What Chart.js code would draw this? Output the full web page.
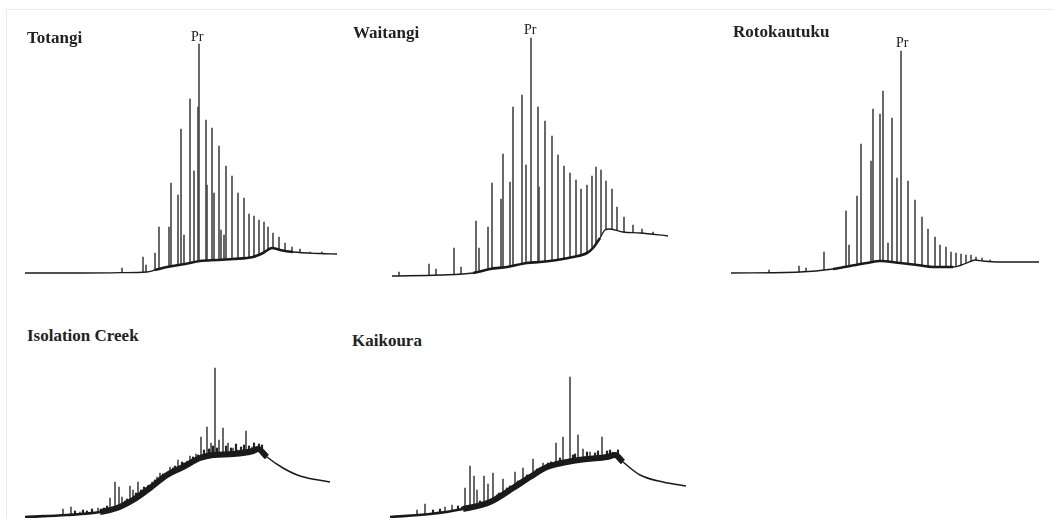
<!DOCTYPE html>
<html>
<head>
<meta charset="utf-8">
<script src="https://cdn.jsdelivr.net/npm/chart.js@4.4.1/dist/chart.umd.min.js"></script>
<style>
  body { margin:0; background:#fff; width:1053px; height:518px; overflow:hidden; position:relative; }
  .frame { position:absolute; left:6px; top:9px; right:0; bottom:0; border-top:1px solid #ececec; border-left:1px solid #ececec; }
  canvas { position:absolute; }
  .name { position:absolute; font-family:"Liberation Serif","Times New Roman",serif; font-weight:bold; font-size:17px; line-height:17px; color:#222; white-space:nowrap; }
  .pr { position:absolute; font-family:"Liberation Serif","Times New Roman",serif; font-size:14px; line-height:14px; color:#222; }
</style>
</head>
<body>
<div class="frame"></div>

<script>
// retention time (arbitrary units) and detector response

// Totangi
const totangiBaseX = [5, 60, 100, 127, 135, 147, 165, 180, 197, 213, 233, 243, 252, 260, 273, 300, 317];
const totangiBaseY = [3, 3, 3.3, 4, 6, 9, 12, 15, 16, 17, 19, 23, 28, 26, 24, 22.5, 22];
const totangiPeakX = [102, 123, 126, 135, 139, 149, 151, 158, 161, 164, 170, 174, 178, 179, 186, 187, 192, 194, 199, 201, 204, 206, 212, 218, 224, 229, 234, 239, 244, 248, 253, 259, 265, 272, 280, 290, 302];
const totangiPeakY = [8, 19, 11, 23, 49, 49, 93, 81, 147, 41, 177, 105, 169, 232, 156, 91, 148, 83, 130, 46, 41, 110, 100, 83, 78, 62, 60, 56, 54, 49, 43, 39, 33, 29, 27, 24, 24];

// Waitangi
const waitangiBaseX = [7, 55, 88, 105, 122, 142, 155, 172, 188, 202, 208, 215, 220, 225, 238, 255, 283];
const waitangiBaseY = [4, 5, 7, 11, 13, 17, 18, 20, 23, 27, 32, 42, 50, 51, 48, 47, 44];
const waitangiPeakX = [14, 44, 51, 69, 76, 91, 94, 103, 107, 116, 118, 125, 128, 137, 141, 146, 153, 154, 160, 167, 173, 179, 185, 191, 196, 202, 207, 211, 216, 221, 227, 232, 239, 248, 257, 268];
const waitangiPeakY = [8, 16, 11, 32, 13, 59, 32, 53, 97, 81, 126, 98, 173, 185, 115, 242, 173, 93, 159, 144, 125, 114, 107, 100, 91, 95, 104, 113, 110, 99, 91, 73, 63, 55, 51, 48];

// Rotokautuku
const rotoBaseX = [6, 75, 108, 125, 142, 155, 175, 192, 208, 228, 242, 250, 258, 275, 314];
const rotoBaseY = [7, 8, 11, 14, 17, 19, 17, 15, 13, 13, 17, 20, 19, 18, 18];
const rotoPeakX = [44, 74, 81, 99, 121, 124, 132, 136, 146, 148, 155, 158, 163, 167, 172, 176, 183, 190, 197, 203, 210, 215, 221, 226, 231, 236, 241, 246, 251, 257, 265];
const rotoPeakY = [10, 14, 12, 28, 69, 35, 84, 136, 119, 171, 166, 189, 37, 162, 102, 229, 99, 80, 63, 51, 43, 35, 33, 28, 27, 26, 25, 25, 23, 22, 20];

// Isolation Creek (resolved peaks plus the small unresolved ones riding on the hump)
const isoBaseX = [5, 47, 80, 97, 113, 130, 147, 163, 180, 193, 213, 233, 238, 247, 263, 280, 310];
const isoBaseY = [1, 3, 6, 10, 18, 30, 43, 51, 60, 63, 64, 67, 69, 61, 50, 42, 36];
const isoPeakX = [23, 43, 51, 60, 78, 90, 95, 99, 102, 110, 113, 118, 128, 132, 137, 140, 150, 158, 167, 170, 176, 181, 187, 191, 195, 199, 203, 208, 213, 218, 226, 232, 236];
const isoPeakY = [3, 9, 11, 6, 10, 20, 36, 31, 21, 32, 28, 36, 33, 36, 41, 45, 51, 58, 57, 62, 64, 81, 91, 75, 150, 78, 90, 75, 70, 68, 87, 71, 70];
const isoNoiseX = [55, 63, 67, 72, 84, 87, 105, 107, 116, 121, 124, 135, 143, 145, 153, 155, 162, 164, 173, 178, 184, 189, 193, 197, 206, 211, 216, 221, 224, 229, 234, 239, 242];
const isoNoiseY = [7, 8, 7, 9, 10, 12, 17, 19, 25, 28, 31, 38, 44, 42, 50, 52, 56, 55, 61, 63, 68, 69, 72, 70, 72, 70, 74, 71, 73, 72, 75, 74, 73];

// Kaikoura
const kaiBaseX = [5, 45, 78, 105, 128, 145, 162, 182, 202, 222, 230, 238, 255, 278, 301];
const kaiBaseY = [1, 4, 9, 16, 30, 41, 51, 56, 59, 61, 63, 56, 43, 36, 32];
const kaiPeakX = [32, 40, 60, 67, 80, 85, 89, 92, 99, 103, 108, 118, 130, 138, 148, 158, 171, 178, 185, 193, 198, 205, 217, 228];
const kaiPeakY = [8, 14, 11, 13, 30, 52, 42, 28, 42, 34, 45, 39, 46, 50, 59, 55, 75, 81, 141, 83, 69, 66, 81, 66];
const kaiNoiseX = [48, 55, 73, 77, 95, 112, 114, 122, 125, 133, 142, 152, 155, 163, 166, 175, 188, 190, 202, 210, 213, 222, 225, 233];
const kaiNoiseY = [8, 9, 12, 11, 17, 23, 25, 30, 32, 37, 43, 49, 50, 55, 56, 60, 63, 64, 66, 65, 67, 67, 68, 68];

const panels = [
  { name: 'Totangi', left: 20, top: 40, width: 320, height: 236, baseX: totangiBaseX, baseY: totangiBaseY, peakX: totangiPeakX, peakY: totangiPeakY,
    widths: [[0, 1.3], [130, 2.6], [262, 1.3]], title: [27, 29], pr: [191, 30] },
  { name: 'Waitangi', left: 385, top: 30, width: 290, height: 250, baseX: waitangiBaseX, baseY: waitangiBaseY, peakX: waitangiPeakX, peakY: waitangiPeakY,
    widths: [[0, 1.3], [88, 2.6], [215, 1.3]], title: [353, 24], pr: [524, 23] },
  { name: 'Rotokautuku', left: 725, top: 40, width: 320, height: 240, baseX: rotoBaseX, baseY: rotoBaseY, peakX: rotoPeakX, peakY: rotoPeakY,
    widths: [[0, 1.3], [108, 2.6], [210, 1.3]], title: [733, 23], pr: [896, 36] },
  { name: 'Isolation Creek', left: 20, top: 360, width: 320, height: 158, baseX: isoBaseX, baseY: isoBaseY, peakX: isoPeakX, peakY: isoPeakY,
    noiseX: isoNoiseX, noiseY: isoNoiseY, widths: [[0, 2.6], [80, 6], [240, 1.5]], title: [27, 327] },
  { name: 'Kaikoura', left: 385, top: 360, width: 305, height: 158, baseX: kaiBaseX, baseY: kaiBaseY, peakX: kaiPeakX, peakY: kaiPeakY,
    noiseX: kaiNoiseX, noiseY: kaiNoiseY, widths: [[0, 2.6], [78, 6], [232, 1.5]], title: [352, 332] }
];

const widthAt = (p, x) => {
  let w = p.widths[0][1];
  p.widths.forEach(s => { if (x >= s[0]) w = s[1]; });
  return w;
};

panels.forEach(p => {
  const canvas = document.createElement('canvas');
  canvas.setAttribute('width', p.width);
  canvas.setAttribute('height', p.height);
  canvas.style.left = p.left + 'px';
  canvas.style.top = p.top + 'px';
  document.body.appendChild(canvas);

  const datasets = [{
    type: 'line',
    data: p.baseX.map((x, i) => ({ x: x, y: p.baseY[i] })),
    borderColor: '#1a1a1a',
    borderWidth: p.widths[0][1],
    borderCapStyle: 'butt',
    borderJoinStyle: 'round',
    pointRadius: 0,
    cubicInterpolationMode: 'monotone',
    fill: 'origin',
    backgroundColor: '#fff',
    order: 0,
    segment: {
      borderWidth: c => widthAt(p, p.baseX[c.p0DataIndex])
    }
  }, {
    type: 'bar',
    data: p.peakX.map((x, i) => ({ x: x, y: p.peakY[i] })),
    backgroundColor: '#4a4a4a',
    barThickness: 1,
    grouped: false,
    order: 2
  }];

  if (p.noiseX) {
    datasets.push({
      type: 'bar',
      data: p.noiseX.map((x, i) => ({ x: x, y: p.noiseY[i] })),
      backgroundColor: '#222',
      barThickness: 1.5,
      grouped: false,
      order: 1
    });
  }

  new Chart(canvas, {
    type: 'bar',
    data: { datasets: datasets },
    options: {
      responsive: false,
      animation: false,
      events: [],
      layout: { padding: 0 },
      plugins: { legend: { display: false }, tooltip: { enabled: false } },
      scales: {
        x: { type: 'linear', display: false, min: 0, max: p.width, offset: false },
        y: { display: false, min: 0, max: p.height }
      }
    }
  });

  const t = document.createElement('div');
  t.className = 'name';
  t.textContent = p.name;
  t.style.left = p.title[0] + 'px';
  t.style.top = p.title[1] + 'px';
  document.body.appendChild(t);

  if (p.pr) {
    const pr = document.createElement('div');
    pr.className = 'pr';
    pr.textContent = 'Pr';
    pr.style.left = p.pr[0] + 'px';
    pr.style.top = p.pr[1] + 'px';
    document.body.appendChild(pr);
  }
});
</script>
</body>
</html>
